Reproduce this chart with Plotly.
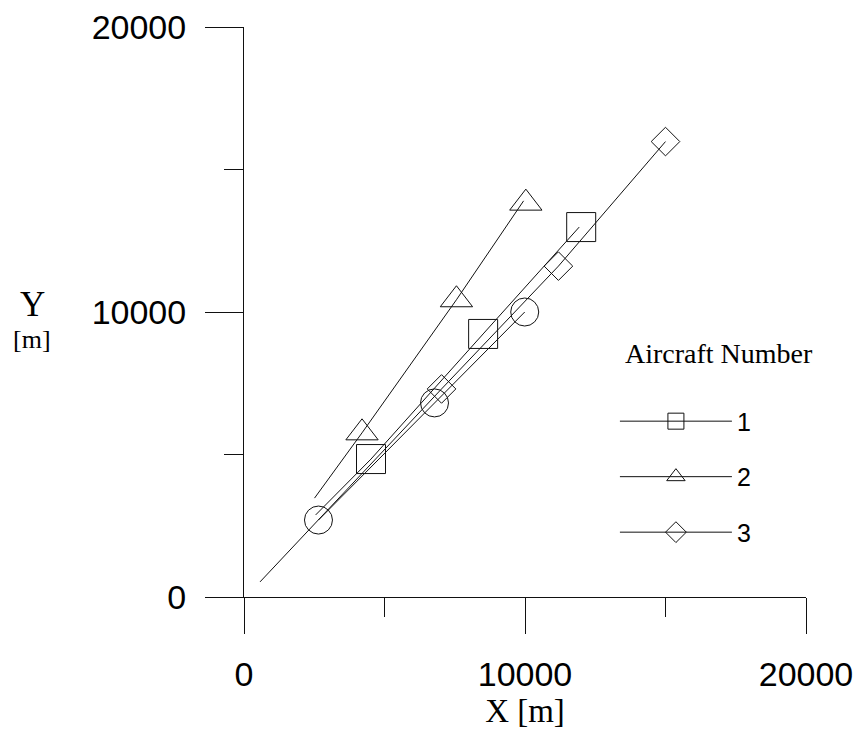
import plotly.graph_objects as go

# ---- data ----
aircraft_labels = ["1", "2", "3"]

# Aircraft 1 (squares)
a1_x = [4520, 8510, 12000]
a1_y = [4840, 9230, 12980]
a1_track_x = [2550, 4520, 8510, 11930]
a1_track_y = [2880, 4840, 9230, 12980]

# Aircraft 2 (triangles)
a2_x = [4200, 7560, 10030]
a2_y = [5760, 10430, 13820]
a2_track_x = [2510, 4200, 7560, 9950]
a2_track_y = [3470, 5760, 10430, 13900]

# Aircraft 3 (diamonds)
a3_x = [7030, 11190, 15000]
a3_y = [7300, 11610, 15980]
a3_track_x = [570, 7030, 11190, 15000]
a3_track_y = [530, 7300, 11610, 15980]

# Unlabelled series (circles)
c_x = [2650, 6780, 9990]
c_y = [2700, 6810, 10000]
c_track_x = [2650, 6780, 9990]
c_track_y = [2700, 6810, 10000]

x_ticks = [0, 10000, 20000]
y_ticks = [0, 10000, 20000]

SERIF = "Liberation Serif, Times New Roman, serif"
SANS = "Liberation Sans, Arial, sans-serif"
INK = "#111111"

fig = go.Figure()

series = [
    (a1_x, a1_y, a1_track_x, a1_track_y, "square-open", 29, aircraft_labels[0]),
    (a2_x, a2_y, a2_track_x, a2_track_y, "triangle-up-open", 28, aircraft_labels[1]),
    (a3_x, a3_y, a3_track_x, a3_track_y, "diamond-open", 22, aircraft_labels[2]),
]

for i, (px, py, tx, ty, sym, sz, name) in enumerate(series):
    fig.add_trace(go.Scatter(
        x=tx, y=ty, mode="lines", line=dict(color=INK, width=1),
        showlegend=False, hoverinfo="skip", legendgroup=f"g{i}"))
    fig.add_trace(go.Scatter(
        x=px, y=py, mode="markers", name=name, legendgroup=f"g{i}",
        marker=dict(symbol=sym, size=sz, color=INK, line=dict(color=INK, width=1)),
        showlegend=False))
    # legend entry (line + marker)
    fig.add_trace(go.Scatter(
        x=[None], y=[None], mode="lines+markers", name=name, legendgroup=f"g{i}",
        line=dict(color=INK, width=1),
        marker=dict(symbol=sym, size=sz, color=INK, line=dict(color=INK, width=1))))

fig.add_trace(go.Scatter(
    x=c_track_x, y=c_track_y, mode="lines", line=dict(color=INK, width=1),
    showlegend=False, hoverinfo="skip"))
fig.add_trace(go.Scatter(
    x=c_x, y=c_y, mode="markers", showlegend=False,
    marker=dict(symbol="circle-open", size=28, color=INK, line=dict(color=INK, width=1))))

axis_common = dict(
    showgrid=False, zeroline=False, showline=True, linecolor=INK, linewidth=1,
    ticks="outside", tickcolor=INK, tickwidth=1, ticklabeloverflow="allow",
    automargin=False,
    tickfont=dict(family=SANS, size=34, color="black"),
    minor=dict(ticks="outside", ticklen=19, dtick=5000, tickcolor=INK, tickwidth=1, showgrid=False),
)

fig.update_xaxes(range=[0, 20000], tickvals=x_ticks, ticktext=[str(v) for v in x_ticks],
                 ticklen=36, ticklabelstandoff=11,
                 title=dict(text="X [m]", font=dict(family=SERIF, size=33, color="black"), standoff=0),
                 **axis_common)
fig.update_yaxes(range=[0, 20000], tickvals=y_ticks, ticktext=[str(v) for v in y_ticks],
                 ticklen=38, ticklabelstandoff=12, **axis_common)

fig.add_annotation(xref="paper", yref="paper", x=-0.377, y=0.5123, xanchor="center", yanchor="middle",
                   text="Y", showarrow=False,
                   font=dict(family=SERIF, size=35, color="black"))
fig.add_annotation(xref="paper", yref="paper", x=-0.377, y=0.4526, xanchor="center", yanchor="middle",
                   text="[m]", showarrow=False,
                   font=dict(family=SERIF, size=26, color="black"))

fig.add_annotation(xref="paper", yref="paper", x=0.674, y=0.428, xanchor="left", yanchor="middle",
                   text="Aircraft Number", showarrow=False,
                   font=dict(family=SERIF, size=28, color="black"))

fig.update_layout(
    width=853, height=721,
    margin=dict(l=236, r=55, t=19, b=132, autoexpand=False),
    paper_bgcolor="white", plot_bgcolor="white",
    showlegend=True,
    legend=dict(x=0.66, y=0.3484, xanchor="left", yanchor="top",
                font=dict(family=SANS, size=25, color="black"),
                bgcolor="rgba(0,0,0,0)", tracegroupgap=20, itemwidth=112,
                itemsizing="trace"),
)

fig.write_html("out.html")
